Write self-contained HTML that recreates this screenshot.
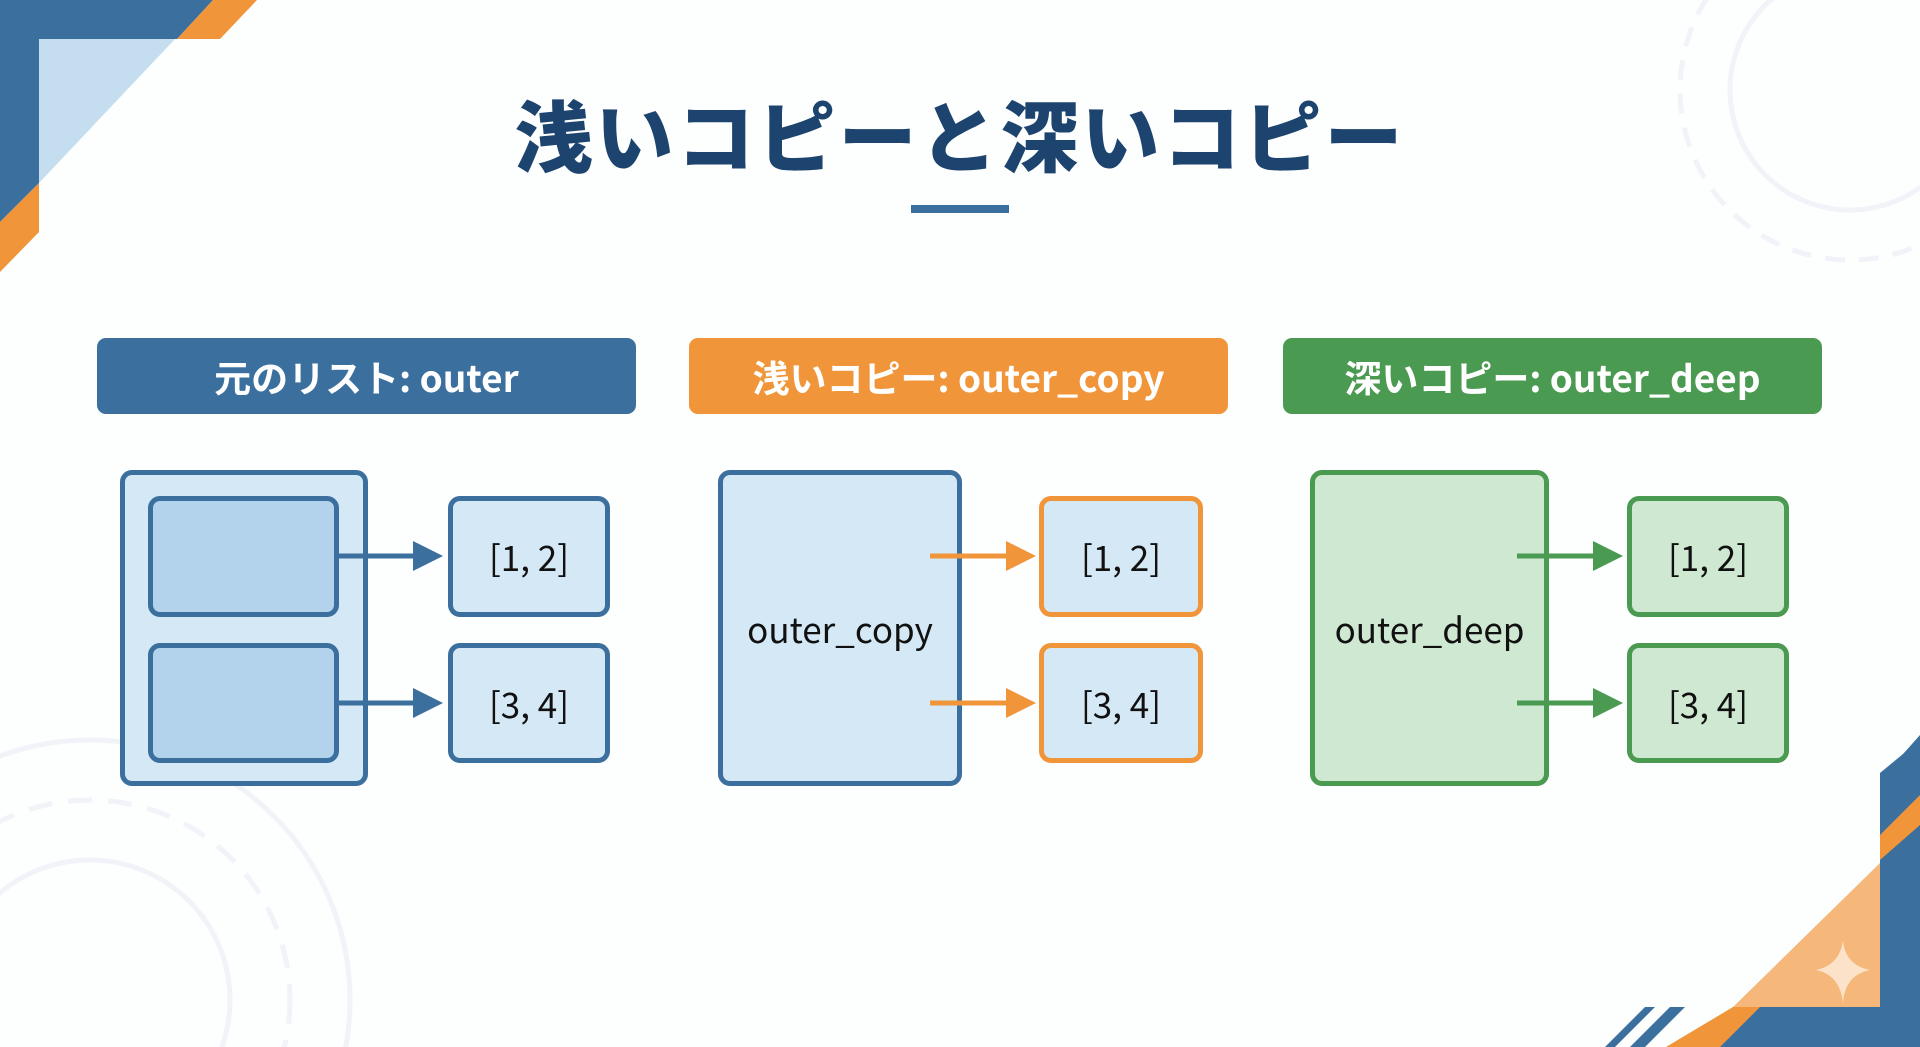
<!DOCTYPE html>
<html><head><meta charset="utf-8"><style>
html,body{margin:0;padding:0;width:1920px;height:1047px;overflow:hidden}
body{position:relative;background:#fdfefe;font-family:"Liberation Sans","Noto Sans CJK JP",sans-serif}
.abs{position:absolute}
.title{left:0;width:1920px;top:86px;text-align:center;font-size:78px;font-weight:900;color:#1d446e;letter-spacing:3px;font-family:"Noto Sans CJK JP",sans-serif;line-height:94px}
.hdr{height:76px;border-radius:9px;color:#fff;font-size:37px;font-weight:bold;text-align:center;line-height:76px;font-family:"Noto Sans CJK JP","Liberation Sans",sans-serif}
.box{box-sizing:border-box;border-radius:12px;border:5px solid}
.lbl{display:flex;align-items:center;justify-content:center;font-size:35px;color:#111;font-family:"Noto Sans CJK JP","Liberation Sans",sans-serif}
</style></head><body>
<svg class="abs" style="left:0;top:0;display:block" width="1920" height="1047">
  <g fill="none" stroke="#f0f4f8" stroke-width="5">
    <circle cx="1850" cy="90" r="120"/><circle cx="1850" cy="90" r="170" stroke-dasharray="20 14"/>
    <circle cx="90" cy="1000" r="140"/><circle cx="90" cy="1000" r="200" stroke-dasharray="24 16"/>
    <circle cx="90" cy="1000" r="260"/>
  </g>
  <polygon points="0,0 213,0 177,39 39,39 39,183 0,222" fill="#3a6f9e"/>
  <polygon points="39,39 175,39 39,183" fill="#c4def0"/>
  <polygon points="213,0 257,0 220,39 177,39" fill="#f0953a"/>
  <polygon points="39,183 39,232 0,272 0,222" fill="#f0953a"/>
  <polygon points="1920,1047 1920,735 1880,780 1880,1007 1740,1007 1695,1047" fill="#3a6f9e"/>
  <polygon points="1880,863 1880,1007 1733,1007" fill="#f5b77a"/>
  <polygon points="1920,795 1920,825 1880,860 1880,835" fill="#f0953a"/>
  <polygon points="1733,1007 1760,1007 1720,1047 1666,1047" fill="#f0953a"/>
  <polygon points="1920,740 1920,760 1880,790 1880,773" fill="#3a6f9e"/>
  <polygon points="1920,765 1920,780 1880,815 1880,800" fill="#3a6f9e"/>
  <polygon points="1645,1007 1655,1007 1615,1047 1605,1047" fill="#3a6f9e"/>
  <polygon points="1670,1007 1685,1007 1645,1047 1630,1047" fill="#3a6f9e"/>
  <path d="M1843,940 Q1845,965 1870,970 Q1845,975 1843,1003 Q1840,975 1816,970 Q1840,965 1843,940Z" fill="#fbe2c8"/>
</svg>
<div class="abs title">浅いコピーと深いコピー</div>
<div class="abs" style="left:911px;top:205px;width:98px;height:8px;background:#3a6f9e"></div>

<div class="abs hdr" style="left:97px;top:338px;width:539px;background:#3a6f9e">元のリスト: outer</div>
<div class="abs hdr" style="left:689px;top:338px;width:539px;background:#f0953a">浅いコピー: outer_copy</div>
<div class="abs hdr" style="left:1283px;top:338px;width:539px;background:#4a9a52">深いコピー: outer_deep</div>

<div class="abs box" style="left:120px;top:470px;width:248px;height:316px;border-color:#3a6f9e;background:#d5e8f5"></div>
<div class="abs box" style="left:148px;top:496px;width:191px;height:121px;border-color:#3a6f9e;background:#b2d3eb"></div>
<div class="abs box" style="left:148px;top:643px;width:191px;height:120px;border-color:#3a6f9e;background:#b2d3eb"></div>
<div class="abs box lbl" style="left:448px;top:496px;width:162px;height:121px;border-color:#3a6f9e;background:#d5e8f5">[1, 2]</div>
<div class="abs box lbl" style="left:448px;top:643px;width:162px;height:120px;border-color:#3a6f9e;background:#d5e8f5">[3, 4]</div>

<div class="abs box lbl" style="left:718px;top:470px;width:244px;height:316px;border-color:#3a6f9e;background:#d5e8f5">outer_copy</div>
<div class="abs box lbl" style="left:1039px;top:496px;width:164px;height:121px;border-color:#f0953a;background:#d5e8f5">[1, 2]</div>
<div class="abs box lbl" style="left:1039px;top:643px;width:164px;height:120px;border-color:#f0953a;background:#d5e8f5">[3, 4]</div>

<div class="abs box lbl" style="left:1310px;top:470px;width:239px;height:316px;border-color:#4a9a52;background:#cfe8d2">outer_deep</div>
<div class="abs box lbl" style="left:1627px;top:496px;width:162px;height:121px;border-color:#4a9a52;background:#cfe8d2">[1, 2]</div>
<div class="abs box lbl" style="left:1627px;top:643px;width:162px;height:120px;border-color:#4a9a52;background:#cfe8d2">[3, 4]</div>

<svg class="abs" style="left:0;top:0;display:block" width="1920" height="1047">
  <g stroke-width="5">
    <line x1="337" y1="556" x2="415" y2="556" stroke="#3a6f9e"/><polygon points="413,541 443,556 413,571" fill="#3a6f9e"/>
    <line x1="337" y1="703" x2="415" y2="703" stroke="#3a6f9e"/><polygon points="413,688 443,703 413,718" fill="#3a6f9e"/>
    <line x1="930" y1="556" x2="1008" y2="556" stroke="#f0953a"/><polygon points="1006,541 1036,556 1006,571" fill="#f0953a"/>
    <line x1="930" y1="703" x2="1008" y2="703" stroke="#f0953a"/><polygon points="1006,688 1036,703 1006,718" fill="#f0953a"/>
    <line x1="1517" y1="556" x2="1595" y2="556" stroke="#4a9a52"/><polygon points="1593,541 1623,556 1593,571" fill="#4a9a52"/>
    <line x1="1517" y1="703" x2="1595" y2="703" stroke="#4a9a52"/><polygon points="1593,688 1623,703 1593,718" fill="#4a9a52"/>
  </g>
</svg>
</body></html>
